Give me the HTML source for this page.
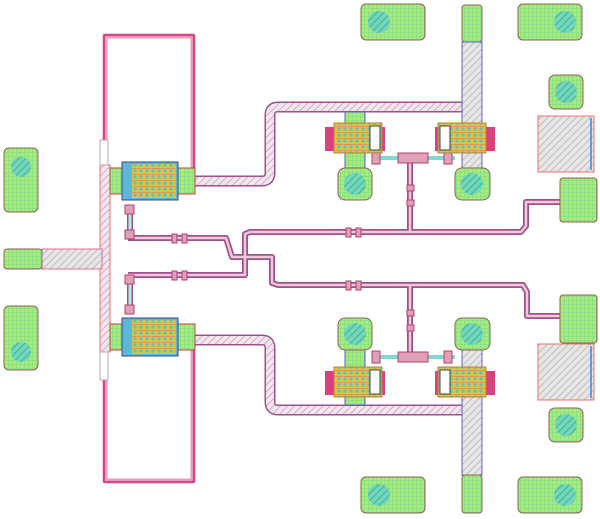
<!DOCTYPE html>
<html><head><meta charset="utf-8"><style>html,body{margin:0;padding:0;background:#fff}svg{display:block}</style></head>
<body>
<svg width="600" height="519" viewBox="0 0 600 519" xmlns="http://www.w3.org/2000/svg">
<defs>
<pattern id="g" width="4" height="4" patternUnits="userSpaceOnUse"><rect width="4" height="4" fill="#a8ec70"/><path d="M0 0H4M0 0V4" stroke="#6fd0a0" stroke-width="0.8"/></pattern>
<pattern id="h" width="5" height="5" patternUnits="userSpaceOnUse" patternTransform="rotate(45)"><rect width="5" height="5" fill="#e6e6e6"/><path d="M0 0V5" stroke="#b0b0b0" stroke-width="1.5"/></pattern>
<pattern id="hp" width="5" height="5" patternUnits="userSpaceOnUse" patternTransform="rotate(45)"><rect width="5" height="5" fill="#f4e6ee"/><path d="M0 0V5" stroke="#b8a0b0" stroke-width="1.5"/></pattern>
<pattern id="t" width="6" height="6" patternUnits="userSpaceOnUse"><rect width="6" height="6" fill="#e8c040"/><circle cx="3" cy="3" r="1.8" fill="#60c8b0"/><path d="M0 0H6" stroke="#e05080" stroke-width="0.8"/></pattern>
<pattern id="c" width="5" height="5" patternUnits="userSpaceOnUse" patternTransform="rotate(45)"><rect width="5" height="5" fill="#70d8b8"/><path d="M0 0V5" stroke="#40a090" stroke-width="1.5"/></pattern>
</defs>
<g fill="none" stroke-linejoin="round">
<!-- loops -->
<path d="M105 165V36H193V172" stroke="#f09ab0" stroke-width="5"/>
<path d="M104 165V35H194V172" stroke="#c83c8c" stroke-width="1.8"/>
<path d="M105 352V481H193V345" stroke="#f09ab0" stroke-width="5"/>
<path d="M104 352V482H194V345" stroke="#c83c8c" stroke-width="1.8"/>
<!-- main traces -->
<path d="M195 181H262Q270 181 270 173V115Q270 107 278 107H480" stroke="#a0508c" stroke-width="11"/>
<path d="M195 181H262Q270 181 270 173V115Q270 107 278 107H480" stroke="url(#hp)" stroke-width="8"/>
<path d="M195 340H262Q270 340 270 348V402Q270 410 278 410H480" stroke="#a0508c" stroke-width="11"/>
<path d="M195 340H262Q270 340 270 348V402Q270 410 278 410H480" stroke="url(#hp)" stroke-width="8"/>
<!-- middle routing -->
<g stroke="#a0508c" stroke-width="6">
<path d="M128 238H226L232 257H272V283L278 285H523L527 292V316H560"/>
<path d="M128 275H245V234L250 232H521L526 226V202H560"/>
<path d="M410 158V232M410 285V358"/>
<path d="M130 205V238M130 275V312"/>
</g>
<g stroke="#f0c8dc" stroke-width="2.5">
<path d="M128 238H226L232 257H272V283L278 285H523L527 292V316H560"/>
<path d="M128 275H245V234L250 232H521L526 226V202H560"/>
<path d="M410 158V232M410 285V358"/>
</g>
<path d="M130 205V238M130 275V312" stroke="#b0f0e0" stroke-width="3"/>
<path d="M375 158H455M375 357H455" stroke="#80d8d0" stroke-width="4"/>
</g>
<!-- vertical pink bar -->
<rect x="100" y="165" width="10" height="187" fill="url(#hp)" stroke="#f07070" stroke-width="1"/>
<rect x="100" y="140" width="8" height="25" fill="#fff" stroke="#c0a0b0"/>
<rect x="100" y="352" width="8" height="28" fill="#fff" stroke="#c0a0b0"/>
<!-- left stub & pads -->
<rect x="42" y="249" width="60" height="20" fill="url(#h)" stroke="#e07090"/>
<rect x="4" y="249" width="38" height="20" rx="3" fill="url(#g)" stroke="#906050"/>
<rect x="4" y="148" width="34" height="64" rx="5" fill="url(#g)" stroke="#906050"/>
<circle cx="21" cy="167" r="10" fill="url(#c)"/>
<rect x="4" y="306" width="34" height="64" rx="5" fill="url(#g)" stroke="#906050"/>
<circle cx="21" cy="352" r="10" fill="url(#c)"/>
<!-- left transistors -->
<g id="lt">
<rect x="110" y="168" width="85" height="26" fill="url(#g)" stroke="#c04040"/>
<rect x="122" y="162" width="56" height="38" fill="#5ab8d8" stroke="#404080"/>
<rect x="132" y="164" width="44" height="34" fill="url(#t)"/>
</g>
<use href="#lt" transform="translate(0,156)"/>
<!-- small vias -->
<g fill="#e0a0b8" stroke="#b04070">
<rect x="125" y="205" width="9" height="9"/><rect x="125" y="230" width="9" height="9"/>
<rect x="125" y="275" width="9" height="9"/><rect x="125" y="305" width="9" height="9"/>
<rect x="172" y="234" width="5" height="9"/><rect x="182" y="234" width="5" height="9"/>
<rect x="172" y="271" width="5" height="9"/><rect x="182" y="271" width="5" height="9"/>
<rect x="346" y="228" width="5" height="9"/><rect x="356" y="228" width="5" height="9"/>
<rect x="346" y="281" width="5" height="9"/><rect x="356" y="281" width="5" height="9"/>
<rect x="407" y="185" width="7" height="6"/><rect x="407" y="200" width="7" height="6"/>
<rect x="407" y="310" width="7" height="6"/><rect x="407" y="325" width="7" height="6"/>
<rect x="398" y="153" width="30" height="10"/><rect x="398" y="352" width="30" height="10"/>
<rect x="372" y="152" width="8" height="12"/><rect x="444" y="152" width="8" height="12"/>
<rect x="372" y="351" width="8" height="12"/><rect x="444" y="351" width="8" height="12"/>
</g>
<!-- right columns -->
<rect x="345" y="112" width="20" height="60" fill="url(#g)" stroke="#6060c0"/>
<rect x="462" y="5" width="20" height="37" rx="3" fill="url(#g)" stroke="#906050"/>
<rect x="462" y="42" width="20" height="130" fill="url(#h)" stroke="#6060c0"/>
<rect x="345" y="345" width="20" height="60" fill="url(#g)" stroke="#6060c0"/>
<rect x="462" y="345" width="20" height="130" fill="url(#h)" stroke="#6060c0"/>
<rect x="462" y="475" width="20" height="38" rx="3" fill="url(#g)" stroke="#906050"/>
<!-- transistors right -->
<g id="rt">
<rect x="325" y="127" width="60" height="24" fill="#d84080"/>
<rect x="334" y="123" width="48" height="30" fill="url(#t)" stroke="#c08030"/>
<rect x="370" y="126" width="10" height="24" fill="#fff" stroke="#404040"/>
</g>
<g transform="translate(820,0) scale(-1,1)"><use href="#rt"/></g>
<use href="#rt" transform="translate(0,244)"/>
<g transform="translate(820,244) scale(-1,1)"><use href="#rt"/></g>
<!-- pads round -->
<g fill="url(#g)" stroke="#906050">
<rect x="338" y="168" width="34" height="32" rx="7"/><rect x="455" y="168" width="35" height="32" rx="7"/>
<rect x="338" y="318" width="34" height="32" rx="7"/><rect x="455" y="318" width="35" height="32" rx="7"/>
<rect x="361" y="4" width="64" height="36" rx="5"/><rect x="518" y="4" width="64" height="36" rx="5"/>
<rect x="361" y="477" width="64" height="36" rx="5"/><rect x="518" y="477" width="64" height="36" rx="5"/>
<rect x="549" y="75" width="34" height="34" rx="6"/><rect x="549" y="408" width="34" height="34" rx="6"/>
<rect x="560" y="178" width="37" height="44" rx="3"/><rect x="560" y="295" width="37" height="48" rx="3"/>
</g>
<g fill="url(#c)">
<circle cx="355" cy="184" r="11"/><circle cx="472" cy="184" r="11"/>
<circle cx="355" cy="334" r="11"/><circle cx="472" cy="334" r="11"/>
<circle cx="379" cy="22" r="11"/><circle cx="565" cy="22" r="11"/>
<circle cx="379" cy="495" r="11"/><circle cx="565" cy="495" r="11"/>
<circle cx="566" cy="92" r="11"/><circle cx="566" cy="425" r="11"/>
</g>
<rect x="538" y="116" width="56" height="56" fill="url(#h)" stroke="#f07070"/>
<line x1="591" y1="118" x2="591" y2="170" stroke="#4080e0" stroke-width="1.5"/>
<rect x="538" y="344" width="56" height="56" fill="url(#h)" stroke="#f07070"/>
<line x1="591" y1="346" x2="591" y2="398" stroke="#4080e0" stroke-width="1.5"/>
</svg>
</body></html>
